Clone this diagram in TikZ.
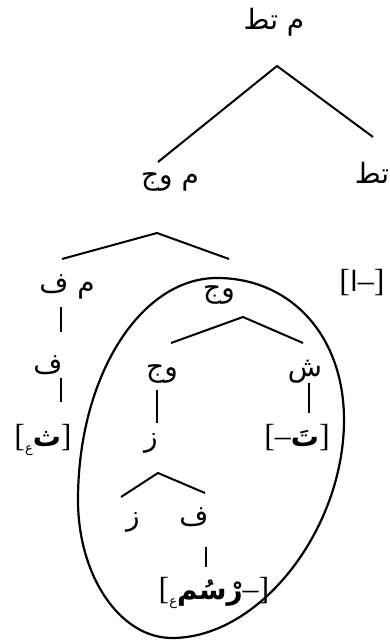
\documentclass[tikz,border=0pt]{standalone}
\usepackage{fontspec}
\setmainfont{Liberation Serif}
\newfontfamily\arabicfont[Script=Arabic]{DejaVu Sans}
\TeXXeTstate=1
\usepackage{tikz}
\usetikzlibrary{positioning, calc}

\newcommand{\artxt}[1]{{\arabicfont\beginR #1\endR}}
\newcommand{\bigbr}[1]{{\fontsize{32}{36}\selectfont #1}}
\newcommand{\subar}[1]{\raisebox{-6pt}{\fontsize{13}{15}\selectfont\artxt{#1}}}

\begin{document}
\begin{tikzpicture}[
    x=1pt, y=1pt,
    lab/.style={inner sep=0pt, anchor=base, font=\fontsize{28}{32}\selectfont},
    branch/.style={line width=2pt},
    ring/.style={line width=2.2pt}
]
    \useasboundingbox (0,0) rectangle (389,642);

    % Top levels
    \node[lab] (agrp) at (274,612) {\artxt{م تط}};
    \node[lab] (aspp) at (170,457) {\artxt{م وج}};
    \node[lab] (agr) at (372,458) {\artxt{تط}};

    % Middle level
    \node[lab] (vp) at (67,349) {\artxt{م ف}};
    \node[lab] (asp) at (219,344) {\artxt{وج}};
    \node[lab] (sfx) at (362,350) {\bigbr{[}\artxt{ا}\bigbr{–]}};

    % Left column
    \node[lab] (v1) at (48,268) {\artxt{ف}};
    \node[lab] (rt1) at (43,195) {\bigbr{[}\subar{ع}\artxt{\bfseries ث}\bigbr{]}};

    % Inner tree
    \node[lab] (asp2) at (162,265) {\artxt{وج}};
    \node[lab] (sh) at (305,265) {\artxt{ش}};
    \node[lab] (tns) at (151,195) {\artxt{ز}};
    \node[lab] (pre) at (297,195) {\bigbr{[–}\artxt{\bfseries تَ}\bigbr{]}};
    \node[lab] (tns2) at (133,116) {\artxt{ز}};
    \node[lab] (v2) at (194,116) {\artxt{ف}};
    \node[lab] (rt2) at (214,42) {\bigbr{[}\subar{ع}\artxt{\bfseries رْسُم}\bigbr{–]}};

    % Branches
    \draw[branch] ([shift={(-12pt,23pt)}]aspp.base) -- ([shift={(3pt,-36pt)}]agrp.base) -- ([shift={(1pt,47pt)}]agr.base);
    \draw[branch] ([shift={(-5pt,34pt)}]vp.base) -- ([shift={(-13pt,-48pt)}]aspp.base) -- ([shift={(10pt,39pt)}]asp.base);
    \draw[branch] ([shift={(-6pt,-14pt)}]vp.base) -- ([shift={(13pt,42pt)}]v1.base);
    \draw[branch] ([shift={(13pt,-4pt)}]v1.base) -- ([shift={(18pt,45pt)}]rt1.base);
    \draw[branch] ([shift={(9pt,34pt)}]asp2.base) -- ([shift={(24pt,-19pt)}]asp.base) -- ([shift={(-2pt,34pt)}]sh.base);
    \draw[branch] ([shift={(-5pt,-13pt)}]asp2.base) -- ([shift={(6pt,24pt)}]tns.base);
    \draw[branch] ([shift={(4pt,-6pt)}]sh.base) -- ([shift={(12pt,34pt)}]pre.base);
    \draw[branch] ([shift={(-12pt,29pt)}]tns2.base) -- ([shift={(7pt,-26pt)}]tns.base) -- ([shift={(11pt,33pt)}]v2.base);
    \draw[branch] ([shift={(12pt,-21pt)}]v2.base) -- ([shift={(-8pt,33pt)}]rt2.base);

    % Circled constituent
    \draw[ring] (217,364) .. controls (290,364) and (344,307) .. (344,222)
        .. controls (344,113) and (260,4) .. (172,4)
        .. controls (120,4) and (78,66) .. (78,142)
        .. controls (78,265) and (140,364) .. (217,364) -- cycle;
\end{tikzpicture}
\end{document}
